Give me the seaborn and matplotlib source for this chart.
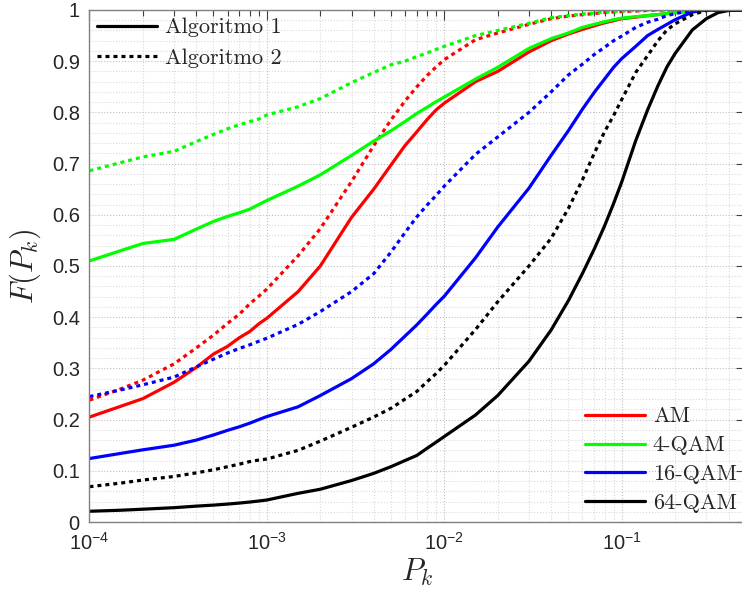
import numpy as np
import pandas as pd
import matplotlib
matplotlib.use("Agg")
import matplotlib.pyplot as plt
from matplotlib.lines import Line2D
from matplotlib.ticker import LogLocator, NullFormatter, MultipleLocator, FuncFormatter
import seaborn as sns

# Probability values at which the empirical CDFs were evaluated
P_k = [1e-4, 1.5e-4, 2e-4, 3e-4, 4e-4, 5e-4, 6e-4, 7e-4, 8e-4, 9e-4,
       1e-3, 1.5e-3, 2e-3, 3e-3, 4e-3, 5e-3, 6e-3, 7e-3, 8e-3, 9e-3,
       1e-2, 1.5e-2, 2e-2, 3e-2, 4e-2, 5e-2, 6e-2, 7e-2, 8e-2, 9e-2,
       0.10, 0.12, 0.14, 0.16, 0.18, 0.20, 0.25, 0.30, 0.35, 0.40, 0.50]

# CDF F(P_k) for each modulation, algorithm 1
am_alg1 = [.205, .226, .241, .273, .302, .328, .343, .360, .372, .387,
           .398, .450, .500, .595, .650, .697, .735, .762, .786, .805,
           .818, .860, .880, .918, .940, .953, .962, .969, .975, .979,
           .983, .986, .989, .991, .993, .995, .998, 1, 1, 1, 1]
qam4_alg1 = [.510, .530, .544, .552, .572, .587, .597, .604, .611, .620,
             .628, .656, .678, .716, .744, .764, .782, .798, .810, .821,
             .830, .865, .888, .925, .944, .955, .966, .972, .977, .981,
             .984, .987, .989, .991, .993, .995, .998, 1, 1, 1, 1]
qam16_alg1 = [.124, .134, .141, .150, .160, .170, .179, .186, .193, .200,
              .206, .225, .247, .280, .309, .337, .363, .385, .406, .425,
              .441, .516, .576, .652, .716, .764, .806, .839, .865, .888,
              .905, .929, .950, .962, .972, .981, .996, 1, 1, 1, 1]
qam64_alg1 = [.021, .023, .025, .028, .031, .033, .035, .037, .039, .041,
              .043, .056, .064, .081, .095, .108, .120, .130, .144, .156,
              .167, .209, .247, .314, .375, .432, .485, .533, .578, .622,
              .664, .745, .805, .852, .889, .915, .961, .983, .995, .999, 1]

# CDF F(P_k) for each modulation, algorithm 2
am_alg2 = [.238, .260, .277, .309, .340, .365, .388, .406, .426, .441,
           .455, .520, .573, .665, .735, .785, .822, .850, .872, .889,
           .903, .942, .955, .972, .983, .988, .991, .993, .995, .996,
           .997, .998, .999, 1, 1, 1, 1, 1, 1, 1, 1]
qam4_alg2 = [.686, .702, .713, .724, .743, .757, .768, .776, .782, .787,
             .795, .811, .827, .858, .878, .893, .900, .909, .916, .923,
             .929, .950, .960, .974, .985, .989, .992, .994, .996, .997,
             .998, .999, 1, 1, 1, 1, 1, 1, 1, 1, 1]
qam16_alg2 = [.245, .258, .268, .283, .303, .318, .330, .339, .346, .353,
              .359, .386, .411, .450, .485, .527, .565, .596, .619, .638,
              .656, .718, .752, .800, .840, .873, .894, .913, .927, .940,
              .949, .966, .976, .982, .989, .993, .999, 1, 1, 1, 1]
qam64_alg2 = [.069, .076, .082, .089, .096, .102, .108, .113, .118, .121,
              .123, .140, .158, .185, .205, .222, .240, .255, .274, .290,
              .306, .376, .430, .500, .554, .612, .668, .720, .762, .794,
              .825, .878, .911, .940, .961, .973, .991, .999, 1, 1, 1]

modulations = ["AM", "4-QAM", "16-QAM", "64-QAM"]
algorithms = ["Algoritmo 1", "Algoritmo 2"]
colors = {"AM": "#ff0000", "4-QAM": "#00ff00", "16-QAM": "#0000ff", "64-QAM": "#000000"}
series = {
    ("AM", "Algoritmo 1"): am_alg1, ("4-QAM", "Algoritmo 1"): qam4_alg1,
    ("16-QAM", "Algoritmo 1"): qam16_alg1, ("64-QAM", "Algoritmo 1"): qam64_alg1,
    ("AM", "Algoritmo 2"): am_alg2, ("4-QAM", "Algoritmo 2"): qam4_alg2,
    ("16-QAM", "Algoritmo 2"): qam16_alg2, ("64-QAM", "Algoritmo 2"): qam64_alg2,
}

df = pd.concat(
    [pd.DataFrame({"P": P_k, "F": vals, "Modulacion": mod, "Algoritmo": alg})
     for (mod, alg), vals in series.items()],
    ignore_index=True,
)

sns.set_style("white")
plt.rcParams.update({
    "font.family": ["Liberation Sans", "DejaVu Sans"],
    "mathtext.fontset": "custom",
    "mathtext.rm": "Liberation Sans",
    "mathtext.it": "Liberation Sans:italic",
    "mathtext.bf": "Liberation Sans:bold",
})

LW = 2.3
DOT = (1.25, 1.25)

fig = plt.figure(figsize=(7.42, 5.94), dpi=100)
ax = fig.add_axes([0.1206, 0.1212, 0.8844, 0.8620])
ax.set_xscale("log")

sns.lineplot(data=df, x="P", y="F", hue="Modulacion", style="Algoritmo",
             hue_order=modulations, style_order=algorithms, palette=colors,
             dashes={"Algoritmo 1": "", "Algoritmo 2": DOT},
             linewidth=LW, estimator=None, sort=True, legend=False, ax=ax)

ax.set_xlim(1e-4, 0.5)
ax.set_ylim(0, 1)

ax.xaxis.set_major_locator(LogLocator(base=10, numticks=12))
ax.xaxis.set_minor_locator(LogLocator(base=10, subs=np.arange(2, 10), numticks=40))
ax.xaxis.set_minor_formatter(NullFormatter())
ax.yaxis.set_major_locator(MultipleLocator(0.1))
ax.yaxis.set_minor_locator(MultipleLocator(0.02))
ax.yaxis.set_major_formatter(FuncFormatter(lambda v, _: f"{v:g}"))

ax.tick_params(which="major", direction="in", length=7, width=0.8, color="0.25",
               top=True, right=True, labelsize=14.5, labelcolor="0.15", pad=7)
ax.tick_params(axis="x", which="minor", direction="in", length=4, width=0.8,
               color="0.25", top=True)
ax.tick_params(axis="y", which="minor", length=0)

ax.set_axisbelow(True)
ax.grid(True, which="major", ls=":", color="0.75", lw=0.8)
ax.grid(True, which="minor", ls=":", color="0.85", lw=0.8)
for s in ax.spines.values():
    s.set_color("0.5")
    s.set_linewidth(1.0)

ax.set_xlabel(r"$P_k$", fontsize=22, math_fontfamily="cm", labelpad=2)
ax.set_ylabel(r"$F(P_k)$", fontsize=22, math_fontfamily="cm", labelpad=6)

legend_font = {"family": "cmr10", "size": 16}
alg_handles = [Line2D([], [], color="k", lw=LW, ls="-"),
               Line2D([], [], color="k", lw=LW, dashes=DOT)]
leg1 = ax.legend(alg_handles, algorithms, loc="upper left", frameon=False,
                 prop=legend_font, handlelength=2.7, handletextpad=0.35,
                 labelspacing=0.5, borderaxespad=0.1, borderpad=0.25)
ax.add_artist(leg1)

mod_handles = [Line2D([], [], color=colors[m], lw=LW) for m in modulations]
ax.legend(mod_handles, modulations, loc="lower right", frameon=False,
          prop=legend_font, handlelength=2.7, handletextpad=0.35,
          labelspacing=0.42, borderaxespad=0.1, borderpad=0.3)

fig.savefig("out.png", dpi=100)
